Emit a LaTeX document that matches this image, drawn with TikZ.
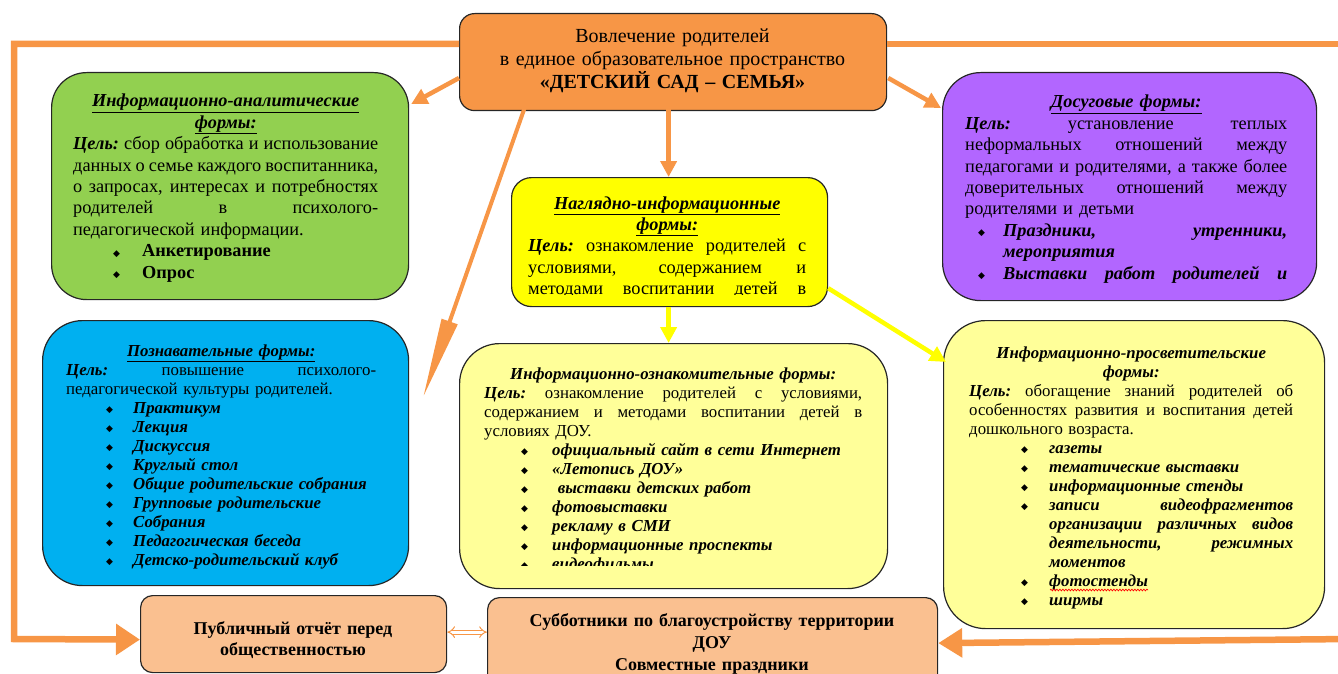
\documentclass[tikz,border=0pt]{standalone}
\usepackage{fontspec}
\setmainfont{Liberation Serif}
\newfontfamily\bulfont{DejaVu Sans}
\usetikzlibrary{arrows.meta,calc,decorations.pathmorphing}
\definecolor{orTop}{HTML}{F79646}
\definecolor{grn}{HTML}{92D050}
\definecolor{purp}{HTML}{B266FF}
\definecolor{yel}{HTML}{FFFF00}
\definecolor{blu}{HTML}{00B0F0}
\definecolor{lyel}{HTML}{FFFF99}
\definecolor{peach}{HTML}{FAC090}
\definecolor{arr}{HTML}{F79646}
\newcommand{\SW}[2]{\leavevmode\hbox to #1{\spaceskip=.25em plus 1fil minus .12em\xspaceskip=\spaceskip\relax #2}}
\newcommand{\JL}[1]{\SW{\linewidth}{#1}}
\newcommand{\CL}[1]{\makebox[\linewidth]{#1}}
\newcommand{\TTL}[1]{\textbf{\textit{\underline{#1}}}}
\newcommand{\GOAL}{\textbf{\textit{Цель:}}}
\newcommand{\BIT}[3]{\hspace*{#1pt}\makebox[#2pt][l]{\raisebox{0.5pt}{\bulfont\fontsize{9}{9}\selectfont ◆}}#3}
\newcommand{\BI}[1]{\textbf{\textit{#1}}}
\tikzset{
  box/.style={draw=black!85, line width=1.2pt, inner sep=0pt, anchor=north west},
  tx/.style={inner sep=0pt, anchor=base west, align=left},
  conn/.style={draw=arr, line width=4.5pt, -{Triangle[length=16pt,width=16pt]}},
  yconn/.style={draw=yel, line width=4.5pt, -{Triangle[length=16pt,width=16pt]}},
  frame/.style={draw=arr, line width=6.5pt},
  fA/.style={font=\fontsize{18.3}{21.4}\selectfont},
  fB/.style={font=\fontsize{16.8}{19}\selectfont},
  spell/.style={draw=red, line width=0.7pt, decorate, decoration={snake, amplitude=0.8pt, segment length=3pt}}
}
\begin{document}
\begin{tikzpicture}[x=1pt,y=-1pt]
\useasboundingbox (0,0) rectangle (1338,674);
% boxes
\node[box, fill=orTop, minimum width=427pt, minimum height=97pt, rounded corners=15pt] (top) at (459,13) {};
\node[box, fill=grn, minimum width=357pt, minimum height=227pt, rounded corners=35pt] (green) at (51,72) {};
\node[box, fill=purp, minimum width=374pt, minimum height=228pt, rounded corners=38pt] (purple) at (942,72) {};
\node[box, fill=yel, minimum width=316pt, minimum height=129pt, rounded corners=20pt] (yellow) at (511,177) {};
\node[box, fill=blu, minimum width=366pt, minimum height=265pt, rounded corners=40pt] (blue) at (42,320) {};
\node[box, fill=lyel, minimum width=428pt, minimum height=245pt, rounded corners=40pt] (mid) at (459,343) {};
\node[box, fill=lyel, minimum width=381pt, minimum height=308pt, rounded corners=42pt] (right) at (943,320) {};
\node[box, fill=peach, minimum width=306pt, minimum height=77pt, rounded corners=12pt] (pub) at (140,595) {};
\node[box, fill=peach, minimum width=450pt, minimum height=90pt, rounded corners=12pt] (sov) at (487,597) {};

% texts
\node[tx, anchor=base, text width=420pt, align=center, font=\fontsize{20}{23}\selectfont] (toptxt) at (672.5,43)
 {Вовлечение родителей\\в единое образовательное пространство\\\textbf{«ДЕТСКИЙ САД – СЕМЬЯ»}};

\node[tx, fA, text width=305pt] (greentxt) at (73,107) {%
\CL{\TTL{Информационно-аналитические}}\\
\CL{\TTL{формы:}}\\
\JL{\GOAL{} сбор обработка и использование}\\
\JL{данных о семье каждого воспитанника,}\\
\JL{о запросах, интересах и потребностях}\\
\JL{родителей в психолого-}\\
педагогической информации.\\
\BIT{40}{29}{\textbf{Анкетирование}}\\
\BIT{40}{29}{\textbf{Опрос}}};

\node[tx, fA, text width=322pt] (purpletxt) at (965,108) {%
\CL{\TTL{Досуговые формы:}}\\
\JL{\GOAL{} установление теплых}\\
\JL{неформальных отношений между}\\
\JL{педагогами и родителями, а также более}\\
\JL{доверительных отношений между}\\
родителями и детьми\\
\BIT{13}{25}{\SW{284pt}{\BI{Праздники, утренники,}}}\\
\hspace*{38pt}\BI{мероприятия}\\
\BIT{13}{25}{\SW{284pt}{\BI{Выставки работ родителей и}}}};

\begin{scope}
\clip (511,177) rectangle (827,294);
\node[tx, fA, text width=278pt] (yellowtxt) at (528,209) {%
\CL{\TTL{Наглядно-информационные}}\\
\CL{\TTL{формы:}}\\
\JL{\GOAL{} ознакомление родителей с}\\
\JL{условиями, содержанием и}\\
\JL{методами воспитании детей в}};
\end{scope}

\node[tx, fB, text width=310pt] (bluetxt) at (66,356) {%
\CL{\TTL{Познавательные формы:}}\\
\JL{\GOAL{} повышение психолого-}\\
педагогической культуры родителей.\\
\BIT{40}{27}{\BI{Практикум}}\\
\BIT{40}{27}{\BI{Лекция}}\\
\BIT{40}{27}{\BI{Дискуссия}}\\
\BIT{40}{27}{\BI{Круглый стол}}\\
\BIT{40}{27}{\BI{Общие родительские собрания}}\\
\BIT{40}{27}{\BI{Групповые родительские}}\\
\BIT{40}{27}{\BI{Собрания}}\\
\BIT{40}{27}{\BI{Педагогическая беседа}}\\
\BIT{40}{27}{\BI{Детско-родительский клуб}}};

\begin{scope}
\clip (459,343) rectangle (887,565);
\node[tx, fB, text width=378pt] (midtxt) at (484,379) {%
\CL{\BI{Информационно-ознакомительные формы:}}\\
\JL{\GOAL{} ознакомление родителей с условиями,}\\
\JL{содержанием и методами воспитании детей в}\\
условиях ДОУ.\\
\BIT{37}{31}{\BI{официальный сайт в сети Интернет}}\\
\BIT{37}{31}{\BI{«Летопись ДОУ»}}\\
\BIT{37}{31}{\BI{\ выставки детских работ}}\\
\BIT{37}{31}{\BI{фотовыставки}}\\
\BIT{37}{31}{\BI{рекламу в СМИ}}\\
\BIT{37}{31}{\BI{информационные проспекты}}\\
\BIT{37}{31}{\BI{видеофильмы}}};
\end{scope}

\node[tx, fB, text width=324pt] (righttxt) at (969,358) {%
\CL{\BI{Информационно-просветительские}}\\
\CL{\BI{формы:}}\\
\JL{\GOAL{} обогащение знаний родителей об}\\
\JL{особенностях развития и воспитания детей}\\
дошкольного возраста.\\
\BIT{52}{28}{\BI{газеты}}\\
\BIT{52}{28}{\BI{тематические выставки}}\\
\BIT{52}{28}{\BI{информационные стенды}}\\
\BIT{52}{28}{\SW{244pt}{\BI{записи видеофрагментов}}}\\
\hspace*{80pt}\SW{244pt}{\BI{организации различных видов}}\\
\hspace*{80pt}\SW{244pt}{\BI{деятельности, режимных}}\\
\hspace*{80pt}\BI{моментов}\\
\BIT{52}{28}{\BI{фотостенды}}\\
\BIT{52}{28}{\BI{ширмы}}};
\draw[spell] (1050,590) -- (1148,590);

\node[tx, anchor=base, text width=300pt, align=center, font=\fontsize{18}{21}\selectfont\bfseries] (pubtxt) at (293,634)
 {Публичный отчёт перед\\общественностью};
\node[tx, anchor=base, text width=440pt, align=center, font=\fontsize{18}{22}\selectfont\bfseries] (sovtxt) at (712,626)
 {Субботники по благоустройству территории\\ДОУ\\Совместные праздники};

% connectors
\coordinate (rt) at (1350,44);
\coordinate (rb) at (1350,639);
\draw[frame, -{Triangle[length=24pt,width=30pt]}] ($(top.north west)+(0,31)$) -- (14,44) -- (14,639) -- ($(pub.west)+(0,5.5)$);
\draw[frame] ($(top.north east)+(0,31)$) -- (rt);
\draw[frame, -{Triangle[length=24pt,width=28pt]}] (rb) -- ($(sov.east)+(0,0.5)$);

\draw[conn] ($(top.north west)+(0,65)$) -- ($(green.north east)+(2,32)$);
\draw[draw=arr, line width=4pt, -{Triangle[length=80pt,width=16pt]}] ($(top.south west)+(69,-13)$) -- ($(blue.north east)+(14,77)$);
\draw[conn] ($(top.south)+(-4.5,-13)$) -- ($(yellow.north)+(-1,0)$);
\draw[conn] ($(top.north east)+(1,65)$) -- ($(purple.north west)+(-1,36)$);

\draw[yconn] ($(yellow.south)+(-1,0)$) -- ($(mid.north)+(-5,0)$);
\draw[yconn] ($(yellow.south east)+(0,-19)$) -- ($(right.north west)+(3,42)$);

\draw[draw=arr, line width=1pt, double=white, double distance=3pt, {Implies}-{Implies}] ($(pub.east)+(0,-2)$) -- ($(sov.west |- pub.east)+(0,-2)$);
\end{tikzpicture}
\end{document}
